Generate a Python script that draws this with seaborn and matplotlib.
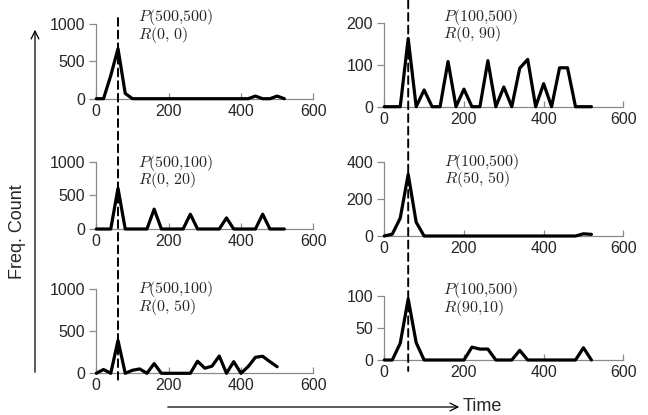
"""
Six small frequency-count panels over time, with a shared dashed marker at t=60.
"""
import matplotlib
matplotlib.use("Agg")
import matplotlib.pyplot as plt
from matplotlib.patches import ConnectionPatch, FancyArrowPatch
import numpy as np
import seaborn as sns

TIME = [0, 20, 40, 60, 80, 100, 120, 140, 160, 180, 200, 220, 240, 260,
        280, 300, 320, 340, 360, 380, 400, 420, 440, 460, 480, 500, 520]

# left column: P(500, ...)
COUNT_P500_R0_0 = [0, 0, 310, 670, 70, 0, 0, 0, 0, 0, 0, 0, 0, 0,
                   0, 0, 0, 0, 0, 0, 0, 0, 35, 0, 0, 35, 0]
COUNT_P500_R0_20 = [0, 0, 0, 605, 0, 0, 0, 0, 295, 0, 0, 0, 0, 220,
                    0, 0, 0, 0, 165, 0, 0, 0, 0, 220, 0, 0, 0]
COUNT_P500_R0_50 = [0, 45, 0, 390, 0, 36, 52, 0, 115, 0, 0, 0, 0, 0,
                    143, 60, 85, 205, 0, 138, 0, 80, 190, 202, 138, 78, np.nan]

# right column: P(100, 500)
COUNT_P100_R0_90 = [0, 0, 0, 163, 0, 40, 0, 0, 108, 0, 42, 0, 0, 110,
                    0, 47, 0, 92, 113, 0, 55, 0, 93, 93, 0, 0, 0]
COUNT_P100_R50_50 = [0, 10, 97, 335, 75, 0, 0, 0, 0, 0, 0, 0, 0, 0,
                     0, 0, 0, 0, 0, 0, 0, 0, 0, 0, 0, 12, 9]
COUNT_P100_R90_10 = [0, 0, 26, 95, 27, 0, 0, 0, 0, 0, 0, 20, 17, 17,
                     0, 0, 0, 15, 0, 0, 0, 0, 0, 0, 0, 19, 0]

P_LABELS = [r"$P(500{,}500)$", r"$P(500{,}100)$", r"$P(500{,}100)$",
            r"$P(100{,}500)$", r"$P(100{,}500)$", r"$P(100{,}500)$"]
R_LABELS = [r"$R(0{,}\ 0)$", r"$R(0{,}\ 20)$", r"$R(0{,}\ 50)$",
            r"$R(0{,}\ 90)$", r"$R(50{,}\ 50)$", r"$R(90{,}10)$"]
Y_TICKS = [[0, 500, 1000], [0, 500, 1000], [0, 500, 1000],
           [0, 100, 200], [0, 200, 400], [0, 50, 100]]
X_TICKS = [0, 200, 400, 600]
MARK_T = 60

SERIES = [COUNT_P500_R0_0, COUNT_P500_R0_20, COUNT_P500_R0_50,
          COUNT_P100_R0_90, COUNT_P100_R50_50, COUNT_P100_R90_10]

W, H = 648, 415
# panel boxes in pixels: (left, top, right, bottom)
BOXES = [(96.3, 24, 313.3, 98.7), (96.3, 161.7, 313.3, 229), (96.3, 289, 313.3, 373.3),
         (384.3, 23, 623.3, 106.7), (384.3, 162.3, 623.3, 236), (384.3, 295.7, 623.3, 360)]
# label anchors in pixels: (x, y of P line, y of R line)
LABEL_POS = [(138, 18, 34), (138, 164, 179), (138, 289, 307),
             (443, 17, 34), (444, 163, 178), (443, 290, 308)]

sns.set_theme(style="white")
plt.rcParams["font.family"] = ["Liberation Sans", "DejaVu Sans"]
plt.rcParams["mathtext.fontset"] = "cm"

fig = plt.figure(figsize=(W / 100, H / 100), dpi=100)
axes = []
for i, (l, t, r, b) in enumerate(BOXES):
    ax = fig.add_axes([l / W, 1 - b / H, (r - l) / W, (b - t) / H])
    sns.lineplot(x=TIME, y=SERIES[i], ax=ax, color="black", lw=2.3,
                 clip_on=False, zorder=5)
    ax.set_xlim(0, 600)
    ax.set_ylim(0, Y_TICKS[i][-1])
    ax.set_xticks(X_TICKS)
    ax.set_yticks(Y_TICKS[i])
    for side in ["top", "right"]:
        ax.spines[side].set_visible(False)
    for side in ["left", "bottom"]:
        ax.spines[side].set_color("#8a8a8a")
        ax.spines[side].set_linewidth(0.9)
    ax.tick_params(axis="y", direction="out", length=5, width=0.9,
                   color="#8a8a8a", labelsize=11.5, pad=3, left=True)
    ax.tick_params(axis="x", direction="in", length=4, width=0.9,
                   color="#8a8a8a", labelsize=11.5, pad=3.5, bottom=True)
    ax.set_xlabel("")
    ax.set_ylabel("")
    ax.patch.set_alpha(0)
    axes.append(ax)

    x, yp, yr = LABEL_POS[i]
    fig.text(x / W, 1 - (yp + yr) / 2 / H, P_LABELS[i] + "\n" + R_LABELS[i],
             fontsize=11.5, va="center", ha="left", linespacing=0.82)

# dashed marker running through each column
for top_ax, bot_ax, y_top, y_bot in [(axes[0], axes[2], 1.08, -0.10),
                                     (axes[3], axes[5], 1.27, -0.17)]:
    con = ConnectionPatch(xyA=(MARK_T, y_top), coordsA=top_ax.get_xaxis_transform(),
                          xyB=(MARK_T, y_bot), coordsB=bot_ax.get_xaxis_transform(),
                          color="black", lw=1.4, linestyle=(0, (4, 2.5)), zorder=6)
    fig.add_artist(con)

# big axis arrows
fig.add_artist(FancyArrowPatch((35 / W, 1 - 375 / H), (35 / W, 1 - 27 / H),
                               transform=fig.transFigure, arrowstyle="->",
                               mutation_scale=14, color="black", lw=0.9))
fig.add_artist(FancyArrowPatch((165 / W, 1 - 407 / H), (462 / W, 1 - 407 / H),
                               transform=fig.transFigure, arrowstyle="->",
                               mutation_scale=14, color="black", lw=0.9))
fig.text(17.5 / W, 1 - 232 / H, "Freq. Count", rotation=90, fontsize=13,
         va="center", ha="center")
fig.text(463 / W, 1 - 406 / H, "Time", fontsize=13, va="center", ha="left")

fig.savefig("out.png", dpi=100, facecolor="white")
